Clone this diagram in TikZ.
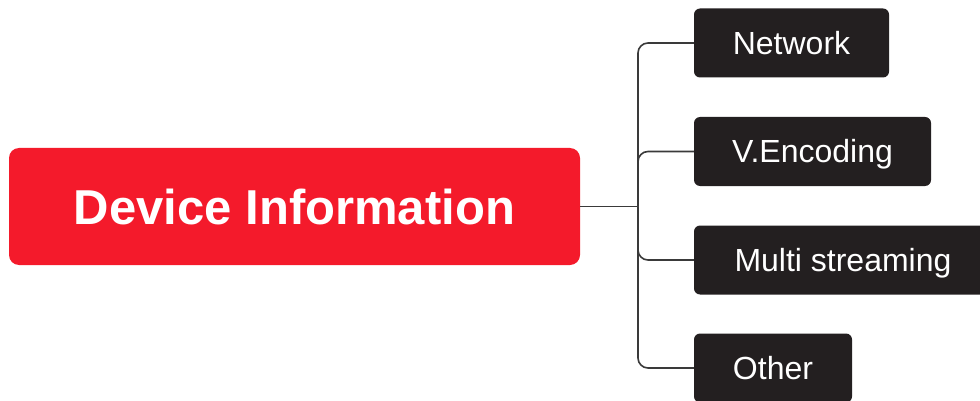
\documentclass[tikz,border=0pt]{standalone}
\usepackage{fontspec}
\setmainfont{Liberation Sans}
\definecolor{mainred}{HTML}{F41A2B}
\definecolor{boxdark}{HTML}{231F20}
\definecolor{linegray}{HTML}{3A3A3A}
\begin{document}
\begin{tikzpicture}[x=1pt,y=-1pt,
  rootbox/.style={fill=mainred,rounded corners=10pt,inner sep=0pt,text=white,
    font=\fontsize{49}{49}\selectfont\bfseries,minimum height=117pt,
    text height=35pt,text depth=0pt},
  leafbox/.style={fill=boxdark,rounded corners=6pt,inner sep=0pt,text=white,
    font=\fontsize{32}{32}\selectfont,minimum height=69pt,
    text height=23pt,text depth=0pt},
  link/.style={draw=linegray,line width=1.6pt,rounded corners=10pt}]
\useasboundingbox (0,0) rectangle (980,401);
\node[rootbox,minimum width=571pt] (root) at (294.5,206.5) {Device Information};
\node[leafbox,minimum width=195pt] (net) at (791.5,43) {Network};
\node[leafbox,minimum width=237pt] (enc) at (812.5,151.5) {V.Encoding};
\node[leafbox,minimum width=298pt] (multi) at (843,260) {Multi streaming};
\node[leafbox,minimum width=158pt] (other) at (773,368) {Other};
\coordinate (j) at (638,206.5);
\draw[link] (root.east) -- (j);
\draw[link] (j) |- (net.west);
\draw[link] (j) |- (enc.west);
\draw[link] (j) |- (multi.west);
\draw[link] (j) |- (other.west);
\end{tikzpicture}
\end{document}
